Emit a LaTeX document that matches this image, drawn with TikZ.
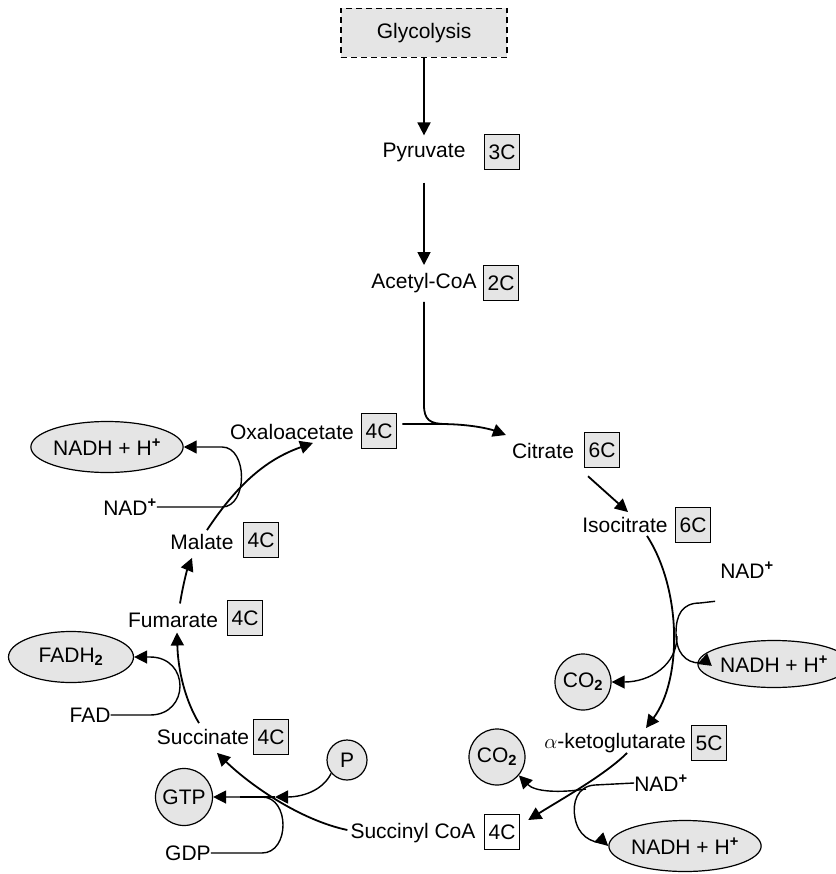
\documentclass[tikz,border=0pt]{standalone}
\usepackage{fontspec}
\setmainfont{Liberation Sans}
\usetikzlibrary{arrows.meta,shapes.geometric,calc}
\newcommand{\sps}{\textsuperscript{\textbf{+}}}
\newcommand{\sbt}{\textsubscript{\textbf{2}}}
\begin{document}
\begin{tikzpicture}[x=1pt,y=-1pt,
  every node/.style={font=\fontsize{21}{25}\selectfont, inner sep=0pt, text=black},
  cbox/.style={draw, line width=1.5pt, fill=gray!20, minimum width=35pt, minimum height=35pt},
  wbox/.style={cbox, fill=white},
  ell/.style={ellipse, draw, line width=1.2pt, fill=gray!20, minimum width=125pt, minimum height=51pt},
  circ/.style={circle, draw, line width=1.2pt, fill=gray!20, minimum size=56pt},
  tip/.style={-{Triangle[length=13pt,width=13pt]}},
  main/.style={line width=1.8pt, tip},
  side/.style={line width=1.4pt, tip},
]
\useasboundingbox (0,0) rectangle (835,874);

% nodes
\node[draw, dash pattern=on 6pt off 4pt, line width=1.2pt, fill=gray!20,
      minimum width=166pt, minimum height=49pt] (gly) at (424,33) {Glycolysis};
\node (pyr) at (424,152) {Pyruvate};
\node[cbox] (p3) at (502,152) {3C};
\node (acc) at (424,283) {Acetyl-CoA};
\node[cbox] (a2) at (501,283) {2C};
\node (oaa) at (292,432) {Oxaloacetate};
\node[cbox] (o4) at (379,431) {4C};
\node (cit) at (543,451) {Citrate};
\node[cbox] (c6) at (602,450) {6C};
\node (iso) at (625,525) {Isocitrate};
\node[cbox] (i6) at (693,525) {6C};
\node (nad1) at (747,570) {NAD\sps};
\node[ell, minimum width=122pt, minimum height=47pt] (nadh1) at (774,664) {NADH + H\sps};
\node[circ] (co2a) at (583,682) {CO\sbt};
\node (akg) at (615,743) {$\alpha$-ketoglutarate};
\node[cbox] (k5) at (709,743) {5C};
\node[circ] (co2b) at (497,757) {CO\sbt};
\node (nad2) at (661,783) {NAD\sps};
\node[ell] (nadh2) at (685,846) {NADH + H\sps};
\node (sca) at (413,833) {Succinyl CoA};
\node[wbox] (s4) at (502,832) {4C};
\node[circ, minimum size=40pt] (ph) at (347,760) {P};
\node[circ, minimum size=57pt] (gtp) at (184,797) {GTP};
\node (gdp) at (188,853) {GDP};
\node (suc) at (203,737) {Succinate};
\node[cbox] (su4) at (271,737) {4C};
\node (fad) at (90,715) {FAD};
\node[ell] (fadh) at (71,657) {FADH\sbt};
\node (fum) at (173,620) {Fumarate};
\node[cbox] (f4) at (245,618) {4C};
\node (mal) at (202,542) {Malate};
\node[cbox] (m4) at (261,540) {4C};
\node (nad3) at (130,507) {NAD\sps};
\node[ell] (nadh3) at (107,447) {NADH + H\sps};
\coordinate (jn) at (275,797);

% entry arrows
\draw[main] (gly.south) -- ($(pyr.north)+(0,-7)$);
\draw[main] ($(pyr.south)+(0,21)$) -- ($(acc.north)+(0,-8)$);
\draw[line width=1.8pt] ($(acc.south)+(0,9)$) -- (424,405)
   .. controls (424,420) and (430,424) .. (446,424);

% cycle
\draw[main] ($(o4.east)+(5,-7)$) -- (440,424) .. controls (470,424) and (490,429) .. ($(cit.west)+(-6,-16)$);
\draw[main] ($(c6.south)+(-14,8)$) -- ($(iso.north)+(3,-5)$);
\draw[main] ($(iso.south)+(22,3)$) .. controls (682,590) and (682,680) .. ($(akg.north)+(31,-5)$);
\draw[side] (677,636) .. controls (677,665) and (650,682) .. (co2a.east);
\draw[side] ($(nad1.south west)+(-5,23)$) -- (700,603) .. controls (682,603) and (676,615) .. (676,633)
   .. controls (676,652) and (685,663) .. (700,663) -- (nadh1.west);
\draw[main] ($(akg.south)+(12,0)$) .. controls (605,775) and (560,800) .. ($(s4.east)+(8,-12)$);
\draw[side] (586,789) .. controls (560,793) and (535,792) .. (co2b.-40);
\draw[side] (nad2.west) -- (595,785) .. controls (577,786) and (572,803) .. (575,818)
   .. controls (578,835) and (590,843) .. (605,843) -- (nadh2.west);
\draw[main] ($(sca.west)+(-3,-3)$) .. controls (300,820) and (250,785) .. ($(suc.south)+(14,8)$);
\draw[side] (ph.-140) .. controls (322,792) and (300,797) .. (jn);
\draw[side] (gdp.east) -- (262,853) .. controls (290,853) and (290,797) .. (262,797) -- (gtp.east);
\draw[line width=1.8pt] (jn) -- (240,797);
\draw[main] ($(suc.north)+(-4,-6)$) .. controls (185,700) and (178,670) .. ($(fum.south)+(4,5)$);
\draw[side] (fad.east) -- (150,715) .. controls (190,715) and (190,657) .. (150,657) -- (fadh.east);
\draw[main] ($(fum.north)+(7,-9)$) .. controls (183,585) and (187,570) .. ($(mal.south)+(-10,8)$);
\draw[main] ($(mal.north)+(5,-4)$) .. controls (240,480) and (270,458) .. ($(oaa.south)+(21,3)$);
\draw[side] (nad3.east) -- (222,507) .. controls (248,507) and (248,447) .. (222,447) -- (nadh3.east);
\end{tikzpicture}
\end{document}
